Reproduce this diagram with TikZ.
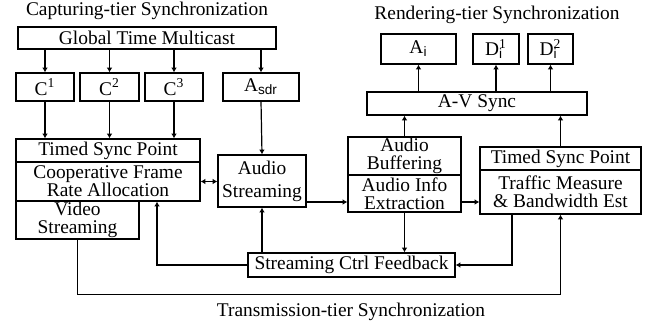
\documentclass[tikz,border=0pt]{standalone}
\usepackage{fontspec}
\setmainfont{Liberation Serif}
\setsansfont{Liberation Sans}
\usetikzlibrary{positioning, arrows.meta, calc}

\begin{document}
\begin{tikzpicture}[
    x=0.5pt, y=-0.5pt,
    % Box Styles
    box/.style={rectangle, draw, line width=0.55pt, inner sep=0pt, align=center, font=\fontsize{9.7}{9}\selectfont},
    title/.style={inner sep=0pt, font=\fontsize{9.7}{11}\selectfont},
    % Line & Arrow Styles
    arr/.style={draw, line width=0.6pt, -{Latex[length=2.4pt,width=2.8pt]}},
    dbl/.style={draw, line width=0.6pt, {Latex[length=2.4pt,width=2.8pt]}-{Latex[length=2.4pt,width=2.8pt]}}
]
    \useasboundingbox (0,0) rectangle (656,327);

    % Titles
    \node [title] (captitle) at (147,11) {Capturing-tier Synchronization};
    \node [title] (rentitle) at (497,15) {Rendering-tier Synchronization};
    \node [title] (trntitle) at (351,312) {Transmission-tier Synchronization};

    % Capturing tier
    \node [box, minimum width=129pt, minimum height=11pt] (gtm) at (147,38) {Global Time Multicast};
    \node [box, minimum width=29pt, minimum height=14pt] (c1) at (45,87) {C\textsuperscript{1}};
    \node [box, minimum width=29.5pt, minimum height=14pt] (c2) at (109.5,87) {C\textsuperscript{2}};
    \node [box, minimum width=29pt, minimum height=14pt] (c3) at (174,87) {C\textsuperscript{3}};
    \node [box, minimum width=38pt, minimum height=14pt] (asdr) at (261,87) {A\textsubscript{\sffamily sdr}};
    \node [box, minimum width=92pt, minimum height=11.5pt] (tspl) at (108,150.5) {Timed Sync Point};
    \node [box, minimum width=92pt, minimum height=19.5pt] (cfra) at (108,181.5) {Cooperative Frame\\Rate Allocation};
    \node [box, minimum width=61.5pt, minimum height=19pt] (video) at (77.5,220) {Video\\Streaming};
    \node [box, minimum width=44pt, minimum height=26pt, font=\fontsize{9.7}{11.5}\selectfont] (astream) at (262,181) {Audio\\Streaming};

    % Transmission tier
    \node [box, minimum width=103.5pt, minimum height=12pt] (scf) at (351.5,265) {Streaming Ctrl Feedback};
    \node [box, minimum width=56.5pt, minimum height=19pt] (abuf) at (404.5,156) {Audio\\Buffering};
    \node [box, minimum width=56.5pt, minimum height=18.5pt] (ainfo) at (404.5,193.5) {Audio Info\\Extraction};
    \node [box, minimum width=80.5pt, minimum height=11.5pt] (tspr) at (560.5,158.5) {Timed Sync Point};
    \node [box, minimum width=80.5pt, minimum height=22pt] (traffic) at (560.5,192) {Traffic Measure\\\& Bandwidth Est};

    % Rendering tier
    \node [box, minimum width=110pt, minimum height=11.5pt] (avsync) at (477,103.5) {A-V Sync};
    \node [box, minimum width=37.5pt, minimum height=15pt] (ai) at (418.5,49) {A\textsubscript{\sffamily i}};
    \node [box, minimum width=23pt, minimum height=15pt] (di1) at (496,49) {D\rlap{\textsubscript{\sffamily i}}\textsuperscript{1}};
    \node [box, minimum width=22.5pt, minimum height=15pt] (di2) at (550.5,49) {D\rlap{\textsubscript{\sffamily i}}\textsuperscript{2}};

    % Helper points
    \coordinate (asout) at ([yshift=-10.5pt]astream.east);

    % Capturing connections
    \foreach \n in {c1, c2, c3, asdr}
        \draw [arr] (\n.north |- gtm.south) -- (\n.north);
    \foreach \n in {c1, c2, c3}
        \draw [arr] (\n.south) -- (\n.south |- tspl.north);
    \draw [arr] (asdr.south) -- (astream.north);
    \draw [dbl] (cfra.east) -- (cfra.east -| astream.west);

    % Transmission connections
    \draw [arr] (asout) -- (asout -| ainfo.west);
    \draw [arr] (asout -| ainfo.east) -- (asout -| traffic.west);
    \draw [arr] (ainfo.south) -- (ainfo.south |- scf.north);
    \draw [arr] ([xshift=-24.25pt]traffic.south) |- (scf.east);
    \draw [arr] (astream.south |- scf.north) -- (astream.south);
    \draw [arr] (scf.west) -| ([xshift=24.5pt]cfra.south);
    \draw [arr] (video.south) -- ++(0,55) -| (traffic.south);

    % Rendering connections
    \draw [arr] (abuf.north) -- (abuf.north |- avsync.south);
    \draw [arr] (tspr.north) -- (tspr.north |- avsync.south);
    \foreach \n in {ai, di1, di2}
        \draw [arr] (\n.south |- avsync.north) -- (\n.south);

\end{tikzpicture}
\end{document}
